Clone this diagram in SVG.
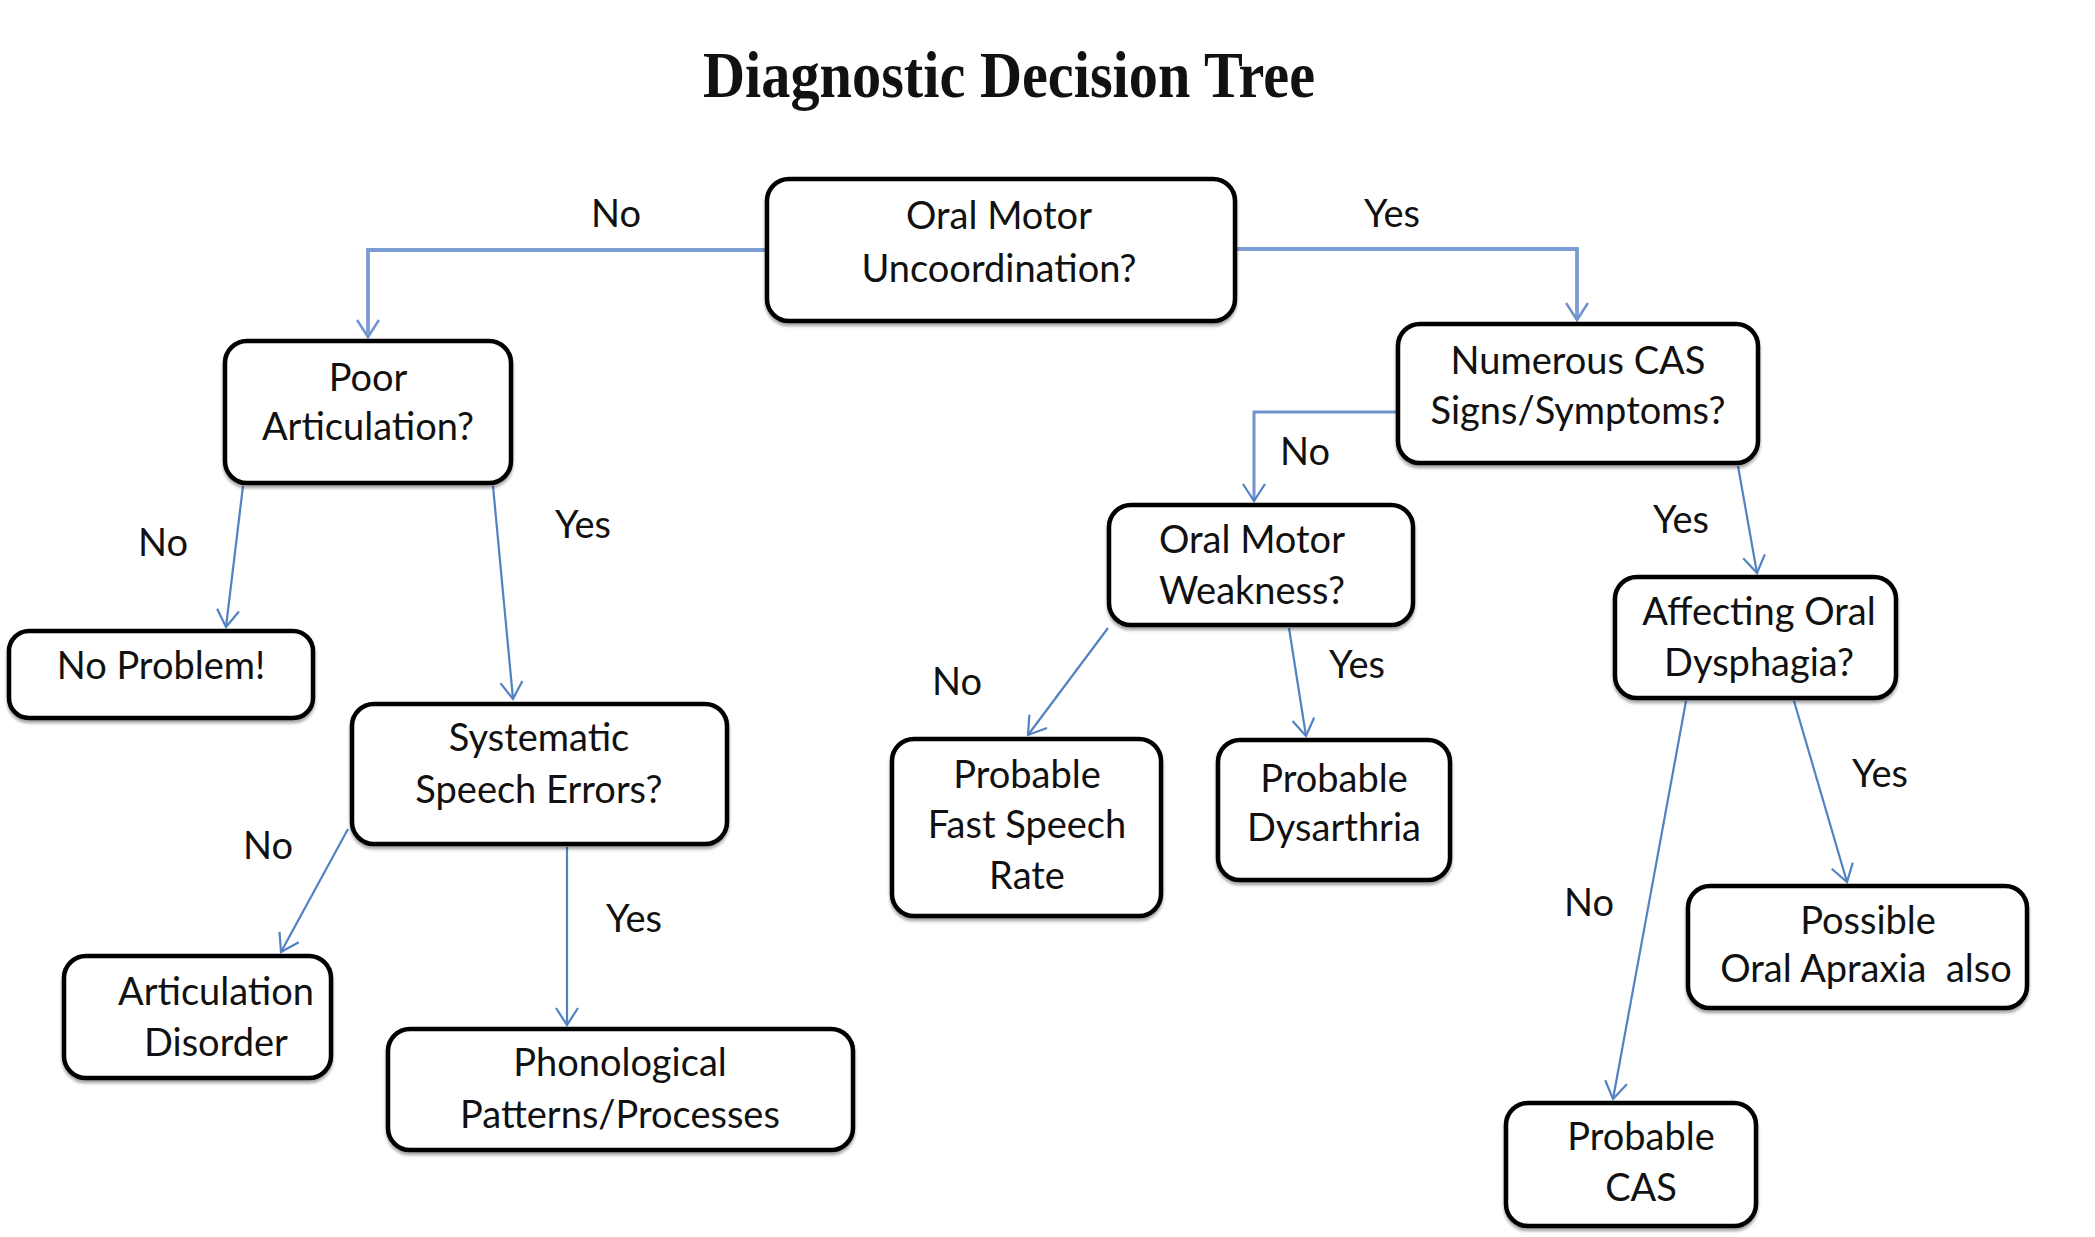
<svg xmlns="http://www.w3.org/2000/svg" width="2095" height="1237" viewBox="0 0 2095 1237">
<style>
.box{fill:#fff;stroke:#000;stroke-width:4.5;filter:url(#sh)}
.t{font-family:Lato,"Open Sans","Liberation Sans",sans-serif;font-size:38px;fill:#111;text-anchor:middle}
.lbl{font-family:Lato,"Open Sans","Liberation Sans",sans-serif;font-size:38px;fill:#111;text-anchor:middle}
.c{fill:none;stroke:#5282c2;stroke-width:2.2;marker-end:url(#ah)}
.ct{fill:none;stroke:#7c9dd3;stroke-width:3.8;marker-end:url(#ah2)}
.title{font-family:"Liberation Serif","Times New Roman",serif;font-weight:bold;font-size:66px;fill:#111;text-anchor:middle}
</style>
<defs>
<filter id="sh" x="-5%" y="-5%" width="110%" height="115%">
<feDropShadow dx="0" dy="3" stdDeviation="1.5" flood-color="#000" flood-opacity="0.35"/>
</filter>
<marker id="ah" viewBox="0 0 22 24" refX="20" refY="12" markerWidth="22" markerHeight="24" markerUnits="userSpaceOnUse" orient="auto">
<path d="M3,1 L20,12 L3,23" fill="none" stroke="#5282c2" stroke-width="2.2"/>
</marker>
<marker id="ah2" viewBox="0 0 22 24" refX="20" refY="12" markerWidth="22" markerHeight="24" markerUnits="userSpaceOnUse" orient="auto">
<path d="M3,1 L20,12 L3,23" fill="none" stroke="#6f93cc" stroke-width="2.6"/>
</marker>
</defs>
<rect width="2095" height="1237" fill="#fff"/>
<text class="title" x="1009" y="97" textLength="612" lengthAdjust="spacingAndGlyphs">Diagnostic Decision Tree</text>

<g id="connectors">
<path class="ct" d="M765,250 H368 V337"/>
<path class="ct" d="M1237,249 H1577 V320"/>
<path class="c" d="M243,486 L226,627"/>
<path class="c" d="M493,486 L513,699"/>
<path class="c" d="M348,829 L281,952"/>
<path class="c" d="M567,847 L567,1025"/>
<path class="c" d="M1396,412 H1254 V501" style="stroke:#6f93cc;stroke-width:3"/>
<path class="c" d="M1738,466 L1757,573"/>
<path class="c" d="M1108,628 L1028,735"/>
<path class="c" d="M1289,628 L1306,736"/>
<path class="c" d="M1686,701 L1613,1099"/>
<path class="c" d="M1794,701 L1847,882"/>
</g>

<g id="labels">
<text class="lbl" x="616" y="227">No</text>
<text class="lbl" x="1392" y="227">Yes</text>
<text class="lbl" x="163" y="556">No</text>
<text class="lbl" x="583" y="538">Yes</text>
<text class="lbl" x="268" y="859">No</text>
<text class="lbl" x="634" y="932">Yes</text>
<text class="lbl" x="1305" y="465">No</text>
<text class="lbl" x="1681" y="533">Yes</text>
<text class="lbl" x="957" y="695">No</text>
<text class="lbl" x="1357" y="678">Yes</text>
<text class="lbl" x="1880" y="787">Yes</text>
<text class="lbl" x="1589" y="916">No</text>
</g>

<g id="n-root">
<rect class="box" x="767" y="179" width="468" height="142" rx="22"/>
<text class="t" x="999" y="229">Oral Motor</text>
<text class="t" x="999" y="282">Uncoordination?</text>
</g>
<g id="n-poor">
<rect class="box" x="225" y="341" width="286" height="142" rx="22"/>
<text class="t" x="368" y="391">Poor</text>
<text class="t" x="368" y="440">Articulation?</text>
</g>
<g id="n-noproblem">
<rect class="box" x="9" y="631" width="304" height="87" rx="20"/>
<text class="t" x="161" y="679">No Problem!</text>
</g>
<g id="n-systematic">
<rect class="box" x="352" y="704" width="375" height="140" rx="22"/>
<text class="t" x="539" y="751">Systematic</text>
<text class="t" x="539" y="803">Speech Errors?</text>
</g>
<g id="n-articulation">
<rect class="box" x="64" y="956" width="267" height="122" rx="22"/>
<text class="t" x="216" y="1005">Articulation</text>
<text class="t" x="216" y="1056">Disorder</text>
</g>
<g id="n-phonological">
<rect class="box" x="388" y="1029" width="465" height="121" rx="22"/>
<text class="t" x="620" y="1076">Phonological</text>
<text class="t" x="620" y="1128">Patterns/Processes</text>
</g>
<g id="n-cas-signs">
<rect class="box" x="1398" y="324" width="360" height="139" rx="22"/>
<text class="t" x="1578" y="374">Numerous CAS</text>
<text class="t" x="1578" y="424">Signs/Symptoms?</text>
</g>
<g id="n-weakness">
<rect class="box" x="1109" y="505" width="304" height="120" rx="22"/>
<text class="t" x="1252" y="553">Oral Motor</text>
<text class="t" x="1252" y="604">Weakness?</text>
</g>
<g id="n-affecting">
<rect class="box" x="1615" y="577" width="281" height="121" rx="22"/>
<text class="t" x="1759" y="625">Affecting Oral</text>
<text class="t" x="1759" y="676">Dysphagia?</text>
</g>
<g id="n-fast">
<rect class="box" x="892" y="739" width="269" height="177" rx="22"/>
<text class="t" x="1027" y="788">Probable</text>
<text class="t" x="1027" y="838">Fast Speech</text>
<text class="t" x="1027" y="889">Rate</text>
</g>
<g id="n-dysarthria">
<rect class="box" x="1218" y="740" width="232" height="140" rx="22"/>
<text class="t" x="1334" y="792">Probable</text>
<text class="t" x="1334" y="841">Dysarthria</text>
</g>
<g id="n-possible">
<rect class="box" x="1688" y="886" width="339" height="122" rx="22"/>
<text class="t" x="1868" y="934">Possible</text>
<text class="t" x="1866" y="982" xml:space="preserve">Oral Apraxia  also</text>
</g>
<g id="n-probable-cas">
<rect class="box" x="1506" y="1103" width="250" height="123" rx="22"/>
<text class="t" x="1641" y="1150">Probable</text>
<text class="t" x="1641" y="1201">CAS</text>
</g>
</svg>
